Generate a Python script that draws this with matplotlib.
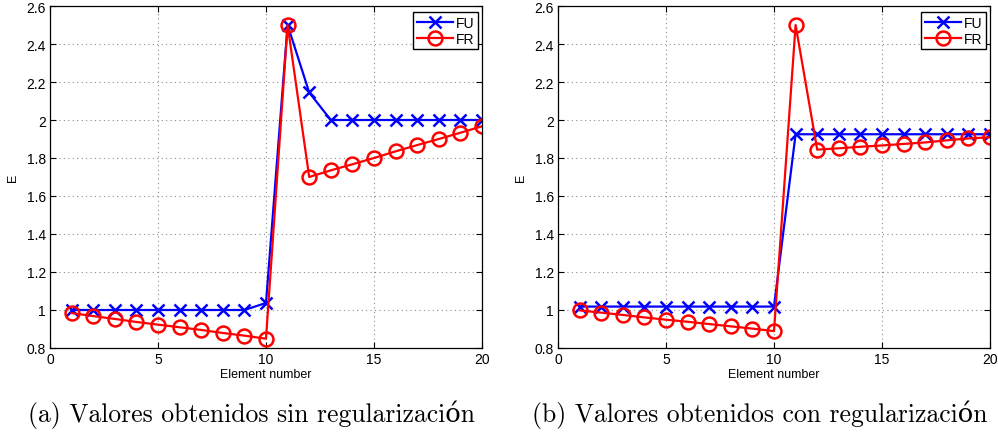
import numpy as np
import matplotlib
matplotlib.use("Agg")
import matplotlib.pyplot as plt
from matplotlib.ticker import FuncFormatter

# datos
element = list(range(1, 21))

fu_a = [1.0, 1.0, 1.0, 1.0, 1.0, 1.0, 1.0, 1.0, 1.0, 1.037,
        2.5, 2.145, 2.0, 2.0, 2.0, 2.0, 2.0, 2.0, 2.0, 2.0]
fr_a = [0.984, 0.968, 0.953, 0.937, 0.923, 0.909, 0.895, 0.879, 0.865, 0.849,
        2.5, 1.70, 1.735, 1.767, 1.80, 1.835, 1.868, 1.90, 1.933, 1.967]

fu_b = [1.018, 1.018, 1.018, 1.018, 1.018, 1.018, 1.018, 1.018, 1.018, 1.018,
        1.925, 1.925, 1.925, 1.925, 1.925, 1.925, 1.925, 1.925, 1.925, 1.925]
fr_b = [0.998, 0.986, 0.974, 0.961, 0.949, 0.938, 0.926, 0.914, 0.902, 0.889,
        2.5, 1.844, 1.851, 1.859, 1.866, 1.874, 1.882, 1.893, 1.903, 1.909]

captions = ["(a) Valores obtenidos sin regularización",
            "(b) Valores obtenidos con regularización"]

W, H = 998, 435
fig = plt.figure(figsize=(W / 100, H / 100), dpi=100)

def setup(ax, fu, fr):
    ax.plot(element, fu, color=(0, 0, 1), lw=1.6, marker="x", ms=9, mew=1.8, label="FU")
    ax.plot(element, fr, color=(1, 0, 0), lw=1.6, marker="o", ms=10, mew=1.8,
            mfc="none", label="FR")
    ax.set_xlim(0, 20)
    ax.set_ylim(0.8, 2.6)
    ax.set_xticks([0, 5, 10, 15, 20])
    ax.set_yticks(np.arange(0.8, 2.61, 0.2))
    ax.yaxis.set_major_formatter(FuncFormatter(lambda v, p: "%g" % round(v, 1)))
    ax.grid(True, color="0.55", linestyle=(0, (1, 3)), linewidth=0.8)
    ax.tick_params(direction="in", top=True, right=True, length=4, width=0.8,
                   labelsize=10, pad=3)
    for lab in ax.get_xticklabels() + ax.get_yticklabels():
        lab.set_family("Liberation Sans")
    for s in ax.spines.values():
        s.set_linewidth(0.9)
    ax.set_xlabel("Element number", family="Liberation Sans", fontsize=9, labelpad=1)
    ax.set_ylabel("E", family="Liberation Sans", fontsize=9, labelpad=5)
    leg = ax.legend(loc="upper right", bbox_to_anchor=(0.99, 0.982), fancybox=False,
                    edgecolor="black", framealpha=1, borderpad=0.25, labelspacing=0.15,
                    handlelength=2.6, handletextpad=0.2, borderaxespad=0,
                    prop={"family": "Liberation Sans", "size": 10})
    leg.get_frame().set_linewidth(1.0)

ax1 = fig.add_axes([50 / W, 86 / H, 432 / W, 342 / H])
setup(ax1, fu_a, fr_a)
ax2 = fig.add_axes([558 / W, 86 / H, 432 / W, 342 / H])
setup(ax2, fu_b, fr_b)

fig.text(252 / W, 1 - 415 / H, captions[0], ha="center", va="center",
         family=["cmr10", "DejaVu Serif"], fontsize=18.5)
fig.text(760 / W, 1 - 415 / H, captions[1], ha="center", va="center",
         family=["cmr10", "DejaVu Serif"], fontsize=18.5)

fig.savefig("out.png", dpi=100)
